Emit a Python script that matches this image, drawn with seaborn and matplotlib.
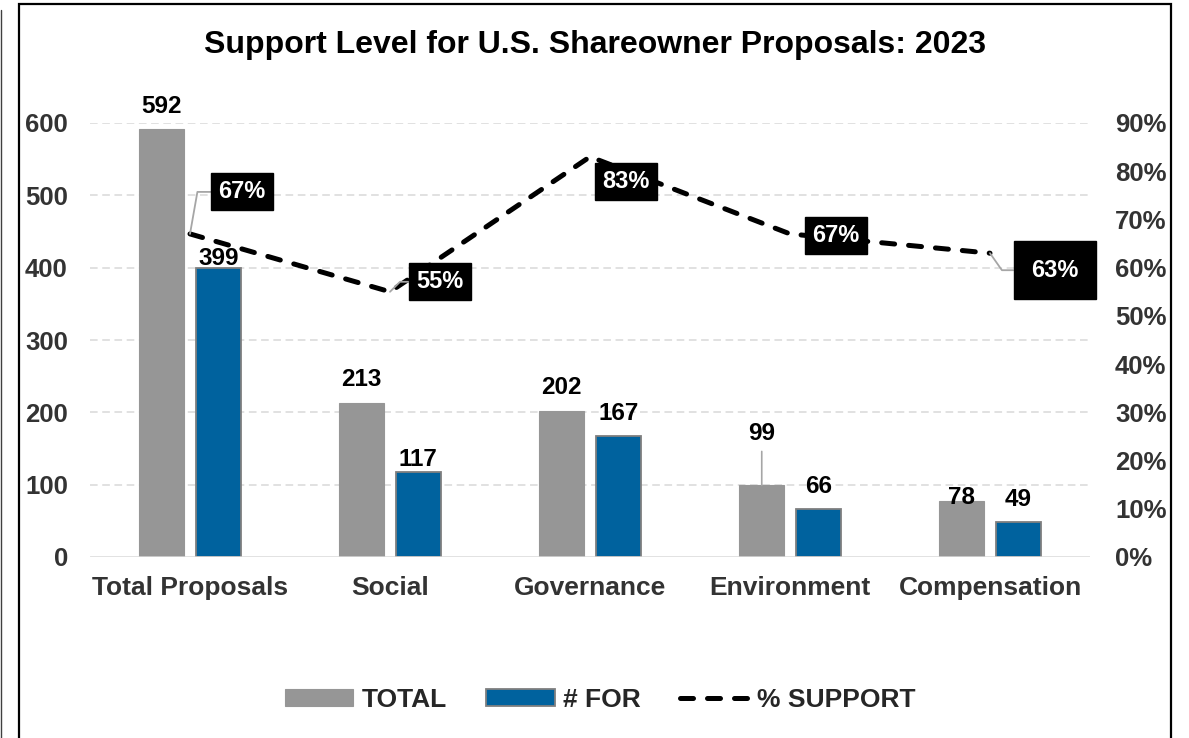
import numpy as np
import pandas as pd
import matplotlib
matplotlib.use("Agg")
import matplotlib.pyplot as plt
import seaborn as sns
from matplotlib.patches import Patch, Rectangle
from matplotlib.lines import Line2D

# ---- data ----
categories = ["Total Proposals", "Social", "Governance", "Environment", "Compensation"]
total_counts = [592, 213, 202, 99, 78]
for_counts = [399, 117, 167, 66, 49]
support_share = [0.67, 0.55, 0.83, 0.67, 0.63]
series_names = ["TOTAL", "# FOR"]
support_name = "% SUPPORT"
title_text = "Support Level for U.S. Shareowner Proposals: 2023"
left_ticks = [0, 100, 200, 300, 400, 500, 600]
right_ticks = [0.0, 0.1, 0.2, 0.3, 0.4, 0.5, 0.6, 0.7, 0.8, 0.9]

# ---- styling ----
GRAY = "#969696"
BLUE = "#00629E"
GRID = "#d9d9d9"
TEXT = "#262626"
TICK = "#333333"

sns.set_theme(style="white")
plt.rcParams["font.family"] = ["Liberation Sans", "DejaVu Sans"]
plt.rcParams["font.weight"] = "bold"

W, H = 1189, 738
fig = plt.figure(figsize=(W / 100, H / 100), dpi=100)
fig.patch.set_facecolor("white")

# frame around the chart
fig.add_artist(Rectangle((18.5 / W, -0.05), (1171 - 18.5) / W, 1.05 - 4 / H,
                         transform=fig.transFigure, fill=False,
                         edgecolor="black", linewidth=1.6))
fig.add_artist(Line2D([1 / W, 1 / W], [0, 1 - 10 / H], transform=fig.transFigure,
                      color="#404040", linewidth=1.0))

ax = fig.add_axes([90 / W, 1 - 557 / H, (1090 - 90) / W, (557 - 123) / H])

df = pd.DataFrame({
    "category": categories * 2,
    "series": [series_names[0]] * len(categories) + [series_names[1]] * len(categories),
    "count": total_counts + for_counts,
})

sns.barplot(data=df, x="category", y="count", hue="series", order=categories,
            hue_order=series_names, palette=[GRAY, BLUE], saturation=1,
            width=0.565, gap=0.2, legend=False, ax=ax, zorder=2)

for bar in ax.containers[1]:
    bar.set_edgecolor("#7f7f7f")
    bar.set_linewidth(1.3)
for bar in ax.containers[0]:
    bar.set_edgecolor(GRAY)
    bar.set_linewidth(0.8)

ax.set_xlim(-0.5, len(categories) - 0.5)
ax.set_ylim(0, 600)
ax.set_yticks(left_ticks)
ax.set_yticklabels([f"{t}" for t in left_ticks])
ax.set_xlabel("")
ax.set_ylabel("")
for s in ax.spines.values():
    s.set_visible(False)
ax.tick_params(axis="both", length=0)
ax.tick_params(axis="y", pad=16, labelsize=18.5, labelcolor=TICK)
ax.tick_params(axis="x", pad=14, labelsize=19, labelcolor=TICK)
for lab in ax.get_xticklabels() + ax.get_yticklabels():
    lab.set_fontweight("bold")

# dashed horizontal gridlines and solid baseline
for t in left_ticks[1:]:
    ax.axhline(t, color=GRID, linewidth=1.1, linestyle=(0, (5, 3)), zorder=0)
ax.axhline(0, color=GRID, linewidth=1.8, zorder=3)

# bar value labels (gap above bar top in pixels)
total_gap = [16, 17, 17, 45, -3]
for_gap = [3, 6, 16, 16, 16]
for bars, vals, gaps in ((ax.containers[0], total_counts, total_gap),
                         (ax.containers[1], for_counts, for_gap)):
    for bar, v, g in zip(bars, vals, gaps):
        cx = bar.get_x() + bar.get_width() / 2
        if g > 30:
            ax.annotate(f"{v}", xy=(cx, v), xytext=(0, g), textcoords="offset pixels",
                        ha="center", va="baseline", fontsize=17.5, fontweight="bold",
                        color="black", zorder=5,
                        arrowprops=dict(arrowstyle="-", color="#a6a6a6", lw=1.2,
                                        shrinkA=2, shrinkB=0))
        else:
            ax.annotate(f"{v}", xy=(cx, v), xytext=(0, g), textcoords="offset pixels",
                        ha="center", va="baseline", fontsize=17.5, fontweight="bold",
                        color="black", zorder=5)

# support line on secondary axis
ax2 = ax.twinx()
sns.lineplot(x=np.arange(len(categories)), y=support_share, ax=ax2, color="black",
             linewidth=3.6, zorder=4)
line = ax2.lines[0]
line.set_dashes([2.6, 2.8])
line.set_dash_capstyle("round")
ax2.set_xlim(-0.5, len(categories) - 0.5)
ax2.set_ylim(0, 0.9)
ax2.set_yticks(right_ticks)
ax2.set_yticklabels([f"{round(t * 100)}%" for t in right_ticks])
ax2.set_ylabel("")
for s in ax2.spines.values():
    s.set_visible(False)
ax2.tick_params(axis="y", length=0, pad=18, labelsize=18.5, labelcolor=TICK)
for lab in ax2.get_yticklabels():
    lab.set_fontweight("bold")

# percentage callouts
callout_offsets = [(52, 42), (50, 10), (36, -25), (46, -2), (65, -17)]
callout_pads = [0.3, 0.3, 0.3, 0.3, 0.75]
callout_links = ["angle,angleA=0,angleB=80,rad=0", "angle,angleA=0,angleB=45,rad=0",
                 None, None, "angle,angleA=0,angleB=-55,rad=0"]
for i, (v, off, pad, link) in enumerate(zip(support_share, callout_offsets,
                                            callout_pads, callout_links)):
    kw = dict(xy=(i, v), xytext=off, textcoords="offset pixels", ha="center",
              va="center", fontsize=17, fontweight="bold", color="white", zorder=6,
              bbox=dict(boxstyle=f"square,pad={pad}", facecolor="black",
                        edgecolor="black"))
    if link is not None:
        kw["arrowprops"] = dict(arrowstyle="-", color="#a6a6a6", lw=1.3,
                                shrinkA=0, shrinkB=0, connectionstyle=link)
    ax2.annotate(f"{round(v * 100)}%", **kw)

# title
fig.text(0.5, 1 - 45 / H, title_text, ha="center", va="center", fontsize=23,
         fontweight="bold", color="black")

# legend
handles = [Patch(facecolor=GRAY, edgecolor=GRAY, linewidth=0.8),
           Patch(facecolor=BLUE, edgecolor="#7f7f7f", linewidth=1.3),
           Line2D([0], [0], color="black", linewidth=3.6, dashes=[2.6, 2.8],
                  dash_capstyle="round")]
fig.legend(handles, series_names + [support_name], loc="center",
           bbox_to_anchor=(600 / W, 1 - 700 / H), ncol=3, frameon=False,
           prop={"size": 19, "weight": "bold"}, labelcolor=TEXT,
           handlelength=2.6, handleheight=0.6, handletextpad=0.3,
           columnspacing=1.5)

fig.savefig("out.png", dpi=100, facecolor="white")
